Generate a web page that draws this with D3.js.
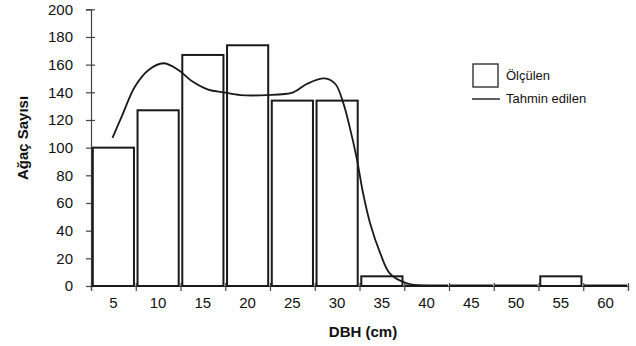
<!DOCTYPE html>
<html>
<head>
<meta charset="utf-8">
<script src="https://cdn.jsdelivr.net/npm/d3@7"></script>
<style>
  body { margin: 0; background: #fff; }
  svg { display: block; font-family: "Liberation Sans", Arial, sans-serif; }
</style>
</head>
<body>
<div id="chart"></div>
<script>
// DBH classes (cm) and measured tree counts
var dbhClasses = [5, 10, 15, 20, 25, 30, 35, 40, 45, 50, 55, 60];
var measured = [100, 127, 167, 174, 134, 134, 7, 0, 0, 0, 7, 0];

// predicted distribution
var fitDbh = [4.9, 5.9, 7.4, 8.9, 10.6, 12.3, 13.8, 15.6, 17.3, 19.2, 22.1, 25.1, 26.6, 28.6, 29.8, 30.7, 31.4, 32.2, 32.9, 33.7, 34.8, 35.9, 37.8, 40.4];
var fitCount = [107, 122, 144, 156, 161, 156, 148, 142, 140, 138, 138, 140, 146, 150, 146, 132, 115, 92, 67, 45, 24, 9, 2, 0];

var yTicks = [0, 20, 40, 60, 80, 100, 120, 140, 160, 180, 200];

var width = 636, height = 346;
var plotLeft = 91, plotRight = 628, plotTop = 9.3, plotBottom = 286;

var svg = d3.select("#chart").append("svg")
    .attr("width", width)
    .attr("height", height);

var x = d3.scaleBand()
    .domain(dbhClasses)
    .range([plotLeft, plotRight])
    .paddingInner(0.08)
    .paddingOuter(0.04);

// continuous scale for the curve and class boundaries
var xLin = d3.scaleLinear()
    .domain([2.5, 62.5])
    .range([plotLeft, plotRight]);

var y = d3.scaleLinear()
    .domain([0, 200])
    .range([plotBottom, plotTop]);

// y axis
var yAxis = svg.append("g")
    .attr("transform", `translate(${plotLeft},0)`)
    .call(d3.axisLeft(y).tickValues(yTicks).tickSize(5).tickPadding(8));
yAxis.select(".domain").attr("stroke", "#444").attr("stroke-width", 1.2);
yAxis.selectAll(".tick line").attr("x1", -5).attr("x2", 4).attr("stroke", "#444").attr("stroke-width", 1.2);
yAxis.selectAll(".tick text")
    .style("font-size", "15px")
    .attr("fill", "#111")
    .attr("dx", "-5");

// x axis: boundary ticks
var bounds = dbhClasses.map(d => d - 2.5).concat([62.5]);
var xTickAxis = svg.append("g")
    .attr("transform", `translate(0,${plotBottom})`)
    .call(d3.axisBottom(xLin).tickValues(bounds).tickSize(4).tickFormat(""));
xTickAxis.select(".domain").attr("stroke", "#444").attr("stroke-width", 1.2);
xTickAxis.selectAll(".tick line").attr("y1", -3).attr("y2", 5).attr("stroke", "#444").attr("stroke-width", 1.2);

// x axis: class labels
var xLabelAxis = svg.append("g")
    .attr("transform", `translate(0,${plotBottom})`)
    .call(d3.axisBottom(x).tickSize(0).tickPadding(11));
xLabelAxis.select(".domain").remove();
xLabelAxis.selectAll(".tick text")
    .style("font-size", "15px")
    .attr("fill", "#111");

// bars (empty classes drawn as a flat outline on the axis)
svg.append("g")
    .selectAll("rect")
    .data(measured)
    .enter().append("rect")
    .attr("x", (d, i) => x(dbhClasses[i]))
    .attr("y", d => y(d) - (d === 0 ? 0.5 : 0))
    .attr("width", x.bandwidth())
    .attr("height", d => Math.max(plotBottom - y(d), 0.5))
    .attr("fill", "#fff")
    .attr("stroke", "#1a1a1a")
    .attr("stroke-width", 2);

// predicted curve
var line = d3.line()
    .x(d => xLin(d))
    .y((d, i) => y(fitCount[i]))
    .curve(d3.curveCatmullRom.alpha(0.5));

svg.append("path")
    .datum(fitDbh)
    .attr("d", line)
    .attr("fill", "none")
    .attr("stroke", "#1a1a1a")
    .attr("stroke-width", 1.8);

// axis titles
svg.append("text")
    .attr("x", 363)
    .attr("y", 337)
    .attr("text-anchor", "middle")
    .style("font-size", "15px")
    .style("font-weight", "bold")
    .attr("fill", "#111")
    .text("DBH (cm)");

svg.append("text")
    .attr("transform", "translate(28,138) rotate(-90)")
    .attr("text-anchor", "middle")
    .style("font-size", "15px")
    .style("font-weight", "bold")
    .attr("fill", "#111")
    .text("Ağaç Sayısı");

// legend
var legend = svg.append("g").attr("transform", "translate(473,64)");
legend.append("rect")
    .attr("width", 25)
    .attr("height", 23)
    .attr("fill", "#fff")
    .attr("stroke", "#333")
    .attr("stroke-width", 1.4);
legend.append("text")
    .attr("x", 33)
    .attr("y", 16)
    .style("font-size", "13px")
    .attr("fill", "#111")
    .text("Ölçülen");
legend.append("line")
    .attr("x1", -1).attr("x2", 27)
    .attr("y1", 35).attr("y2", 35)
    .attr("stroke", "#1a1a1a")
    .attr("stroke-width", 1.4);
legend.append("text")
    .attr("x", 33)
    .attr("y", 39)
    .style("font-size", "13px")
    .attr("fill", "#111")
    .text("Tahmin edilen");
</script>
</body>
</html>
